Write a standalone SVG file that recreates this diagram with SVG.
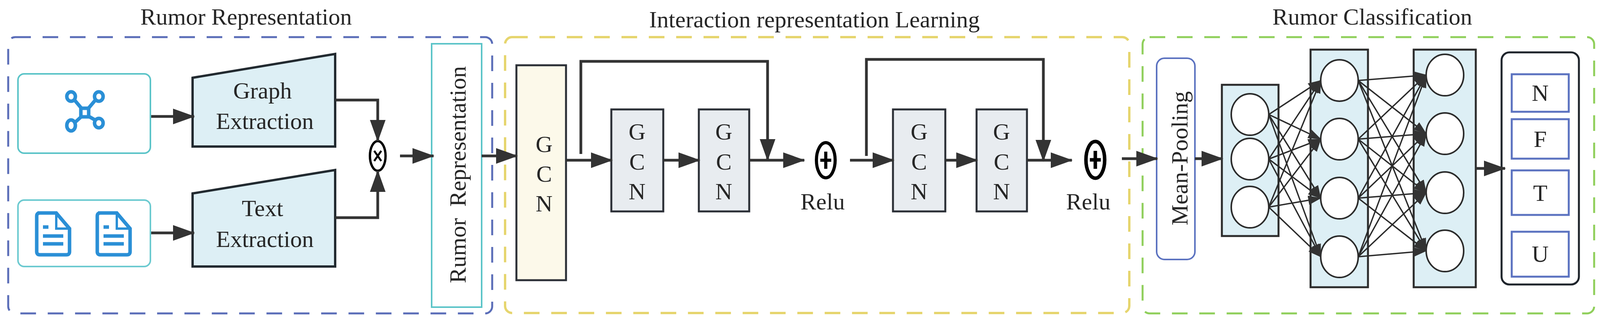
<svg xmlns="http://www.w3.org/2000/svg" width="4102" height="824" viewBox="0 0 4102 824">
<style>
text{font-family:"Liberation Serif","Times New Roman",serif;fill:#262626;}
.t{font-size:60px;text-anchor:middle;}
.c{stroke:#333;stroke-width:7;fill:none;}
.n{stroke:#2b2b2b;stroke-width:3.5;fill:none;}
.cir{fill:#fff;stroke:#2b2b2b;stroke-width:4;}
.lay{fill:#ddeff5;stroke:#2b2b2b;stroke-width:5;}
.g{fill:#e8ecf0;stroke:#2b2f36;stroke-width:5;}
.ob{fill:#fff;stroke:#5b72c0;stroke-width:5;}
.ic{stroke:#2a8fd6;stroke-width:9;fill:none;}
</style>
<defs>
<marker id="a" markerUnits="userSpaceOnUse" markerWidth="56" markerHeight="42" refX="54" refY="20" orient="auto"><path d="M0,0 L56,20 L0,40 z" fill="#333"/></marker>
<marker id="s" markerUnits="userSpaceOnUse" markerWidth="34" markerHeight="26" refX="32" refY="12" orient="auto"><path d="M0,0 L34,12 L0,24 z" fill="#333"/></marker>
</defs>
<!-- section frames -->
<g id="frames">
<rect x="21" y="95" width="1239" height="707" rx="18" fill="none" stroke="#5a6db8" stroke-width="5" stroke-dasharray="40,30"/>
<rect x="1293" y="95" width="1598" height="706" rx="18" fill="none" stroke="#e6d56e" stroke-width="6" stroke-dasharray="40,30"/>
<rect x="2925" y="95" width="1156" height="707" rx="18" fill="none" stroke="#8fcf5a" stroke-width="5" stroke-dasharray="40,30"/>
<text class="t" x="630" y="63">Rumor Representation</text>
<text class="t" x="2085" y="70">Interaction representation Learning</text>
<text class="t" x="3513" y="63">Rumor Classification</text>
</g>
<g id="graph-input">
<rect x="46" y="189" width="339" height="203" rx="16" fill="#fff" stroke="#5bc4c8" stroke-width="4"/>
<g class="ic">
<line x1="190" y1="255" x2="211" y2="280"/><line x1="245" y1="255" x2="224" y2="280"/>
<line x1="190" y1="315" x2="211" y2="296"/><line x1="245" y1="308" x2="224" y2="296"/>
<rect x="207" y="277" width="20" height="22"/>
<ellipse cx="182" cy="247" rx="11" ry="12"/><ellipse cx="253" cy="247" rx="11" ry="12"/>
<ellipse cx="182" cy="321" rx="11" ry="14"/><ellipse cx="253" cy="315" rx="11" ry="12"/>
</g>
</g>
<g id="text-input">
<rect x="46" y="512" width="339" height="170" rx="16" fill="#fff" stroke="#6ccad0" stroke-width="4"/>
<g class="ic">
<path d="M96,545 H144 L178,585 V644 Q178,652 170,652 H102 Q94,652 94,644 V553 Q94,545 102,545 Z"/>
<path d="M144,545 V585 H178" stroke-width="6"/>
<line x1="110" y1="581" x2="124" y2="581"/><line x1="110" y1="604" x2="162" y2="604"/><line x1="110" y1="624" x2="162" y2="624"/>
<path d="M251,545 H299 L333,585 V644 Q333,652 325,652 H257 Q249,652 249,644 V553 Q249,545 257,545 Z"/>
<path d="M299,545 V585 H333" stroke-width="6"/>
<line x1="265" y1="581" x2="279" y2="581"/><line x1="265" y1="604" x2="317" y2="604"/><line x1="265" y1="624" x2="317" y2="624"/>
</g>
</g>
<g id="graph-extraction">
<path d="M493,199 L858,138 V375 H493 Z" fill="#ddeff5" stroke="#222a30" stroke-width="6"/>
<text class="t" x="672" y="252">Graph</text><text class="t" x="678" y="330">Extraction</text>
</g>
<g id="text-extraction">
<path d="M493,495 L858,435 V682 H493 Z" fill="#ddeff5" stroke="#222a30" stroke-width="6"/>
<text class="t" x="672" y="553">Text</text><text class="t" x="678" y="632">Extraction</text>
</g>
<g id="mult">
<ellipse cx="967" cy="399" rx="20" ry="38" fill="#fff" stroke="#000" stroke-width="6"/>
<path d="M958,386 L976,412 M976,386 L958,412" stroke="#000" stroke-width="5"/>
</g>
<g id="rumor-rep">
<rect x="1105" y="112" width="128" height="674" fill="#fff" stroke="#5bc4c8" stroke-width="4"/>
<text class="t" transform="translate(1192,447) rotate(-90)" style="font-size:60px;word-spacing:14px">Rumor Representation</text>
</g>
<g id="gcn0"><rect x="1322" y="167" width="127" height="550" fill="#fcf9ea" stroke="#2b2f36" stroke-width="5"/>
<text class="t" x="1393" y="389">G</text><text class="t" x="1393" y="465">C</text><text class="t" x="1393" y="541">N</text></g>
<g id="gcn1"><rect class="g" x="1565" y="280" width="133" height="261"/>
<text class="t" x="1631" y="357">G</text><text class="t" x="1631" y="434">C</text><text class="t" x="1631" y="510">N</text></g>
<g id="gcn2"><rect class="g" x="1789" y="280" width="129" height="261"/>
<text class="t" x="1853" y="357">G</text><text class="t" x="1853" y="434">C</text><text class="t" x="1853" y="510">N</text></g>
<g id="gcn3"><rect class="g" x="2286" y="280" width="134" height="261"/>
<text class="t" x="2353" y="357">G</text><text class="t" x="2353" y="434">C</text><text class="t" x="2353" y="510">N</text></g>
<g id="gcn4"><rect class="g" x="2500" y="280" width="129" height="261"/>
<text class="t" x="2564" y="357">G</text><text class="t" x="2564" y="434">C</text><text class="t" x="2564" y="510">N</text></g>
<g id="plus1">
<ellipse cx="2114" cy="410" rx="24" ry="45" fill="#fff" stroke="#000" stroke-width="8"/>
<path d="M2114,388 V432 M2100,410 H2128" stroke="#000" stroke-width="8"/>
<text class="t" x="2106" y="536">Relu</text>
</g>
<g id="plus2">
<ellipse cx="2804" cy="409" rx="24" ry="47" fill="#fff" stroke="#000" stroke-width="9"/>
<path d="M2804,386 V432 M2790,409 H2818" stroke="#000" stroke-width="9"/>
<text class="t" x="2786" y="536">Relu</text>
</g>
<g id="mean-pooling">
<rect x="2961" y="149" width="98" height="515" rx="20" fill="#fff" stroke="#5b72c0" stroke-width="4"/>
<text class="t" transform="translate(3040,405) rotate(-90)">Mean-Pooling</text>
</g>
<g id="layer1"><rect class="lay" x="3128" y="217" width="145" height="387"/>
<ellipse class="cir" cx="3200" cy="293" rx="48" ry="53"/><ellipse class="cir" cx="3200" cy="407" rx="48" ry="53"/><ellipse class="cir" cx="3200" cy="530" rx="48" ry="53"/></g>
<g id="layer2"><rect class="lay" x="3355" y="127" width="147" height="608"/>
<ellipse class="cir" cx="3429" cy="206" rx="48" ry="53"/><ellipse class="cir" cx="3429" cy="356" rx="48" ry="53"/><ellipse class="cir" cx="3429" cy="507" rx="48" ry="53"/><ellipse class="cir" cx="3429" cy="657" rx="48" ry="53"/></g>
<g id="layer3"><rect class="lay" x="3619" y="127" width="159" height="608"/>
<ellipse class="cir" cx="3699" cy="192" rx="48" ry="53"/><ellipse class="cir" cx="3699" cy="342" rx="48" ry="53"/><ellipse class="cir" cx="3699" cy="493" rx="48" ry="53"/><ellipse class="cir" cx="3699" cy="642" rx="48" ry="53"/></g>
<g id="output">
<rect x="3844" y="134" width="198" height="594" rx="20" fill="#fff" stroke="#1e242b" stroke-width="5"/>
<rect class="ob" x="3870" y="190" width="146" height="96"/><text class="t" x="3943" y="258">N</text>
<rect class="ob" x="3870" y="305" width="146" height="101"/><text class="t" x="3943" y="376">F</text>
<rect class="ob" x="3870" y="436" width="146" height="114"/><text class="t" x="3943" y="514">T</text>
<rect class="ob" x="3870" y="593" width="146" height="115"/><text class="t" x="3943" y="670">U</text>
</g>
<g id="connectors">
<line class="c" x1="387" y1="298" x2="497" y2="298" marker-end="url(#a)"/>
<line class="c" x1="387" y1="596" x2="497" y2="596" marker-end="url(#a)"/>
<path class="c" d="M858,256 H967 V361" marker-end="url(#a)"/>
<path class="c" d="M858,557 H967 V437" marker-end="url(#a)"/>
<line class="c" x1="1024" y1="399" x2="1110" y2="399" marker-end="url(#a)"/>
<line class="c" x1="1233" y1="399" x2="1324" y2="399" marker-end="url(#a)"/>
<line class="c" x1="1449" y1="410" x2="1567" y2="410" marker-end="url(#a)"/>
<line class="c" x1="1698" y1="410" x2="1791" y2="410" marker-end="url(#a)"/>
<line class="c" x1="1918" y1="410" x2="2059" y2="410" marker-end="url(#a)"/>
<path class="c" d="M1487,394 V157 H1965 V410" marker-end="url(#a)"/>
<line class="c" x1="2176" y1="410" x2="2288" y2="410" marker-end="url(#a)"/>
<line class="c" x1="2420" y1="410" x2="2502" y2="410" marker-end="url(#a)"/>
<line class="c" x1="2629" y1="410" x2="2744" y2="410" marker-end="url(#a)"/>
<path class="c" d="M2218,399 V152 H2671 V412" marker-end="url(#a)"/>
<line class="c" x1="2872" y1="406" x2="2963" y2="406" marker-end="url(#a)"/>
<line class="c" x1="3059" y1="406" x2="3130" y2="406" marker-end="url(#a)"/>
<line class="c" x1="3778" y1="431" x2="3853" y2="431" marker-end="url(#a)"/>
<g class="n">
<line x1="3248" y1="293" x2="3381" y2="206" marker-end="url(#s)"/><line x1="3248" y1="293" x2="3381" y2="356" marker-end="url(#s)"/><line x1="3248" y1="293" x2="3381" y2="507" marker-end="url(#s)"/><line x1="3248" y1="293" x2="3381" y2="657" marker-end="url(#s)"/>
<line x1="3248" y1="407" x2="3381" y2="206" marker-end="url(#s)"/><line x1="3248" y1="407" x2="3381" y2="356" marker-end="url(#s)"/><line x1="3248" y1="407" x2="3381" y2="507" marker-end="url(#s)"/><line x1="3248" y1="407" x2="3381" y2="657" marker-end="url(#s)"/>
<line x1="3248" y1="530" x2="3381" y2="206" marker-end="url(#s)"/><line x1="3248" y1="530" x2="3381" y2="356" marker-end="url(#s)"/><line x1="3248" y1="530" x2="3381" y2="507" marker-end="url(#s)"/><line x1="3248" y1="530" x2="3381" y2="657" marker-end="url(#s)"/>
<line x1="3477" y1="206" x2="3651" y2="192" marker-end="url(#s)"/><line x1="3477" y1="206" x2="3651" y2="342" marker-end="url(#s)"/><line x1="3477" y1="206" x2="3651" y2="493" marker-end="url(#s)"/><line x1="3477" y1="206" x2="3651" y2="642" marker-end="url(#s)"/>
<line x1="3477" y1="356" x2="3651" y2="192" marker-end="url(#s)"/><line x1="3477" y1="356" x2="3651" y2="342" marker-end="url(#s)"/><line x1="3477" y1="356" x2="3651" y2="493" marker-end="url(#s)"/><line x1="3477" y1="356" x2="3651" y2="642" marker-end="url(#s)"/>
<line x1="3477" y1="507" x2="3651" y2="192" marker-end="url(#s)"/><line x1="3477" y1="507" x2="3651" y2="342" marker-end="url(#s)"/><line x1="3477" y1="507" x2="3651" y2="493" marker-end="url(#s)"/><line x1="3477" y1="507" x2="3651" y2="642" marker-end="url(#s)"/>
<line x1="3477" y1="657" x2="3651" y2="192" marker-end="url(#s)"/><line x1="3477" y1="657" x2="3651" y2="342" marker-end="url(#s)"/><line x1="3477" y1="657" x2="3651" y2="493" marker-end="url(#s)"/><line x1="3477" y1="657" x2="3651" y2="642" marker-end="url(#s)"/>
</g>
</g>
</svg>
